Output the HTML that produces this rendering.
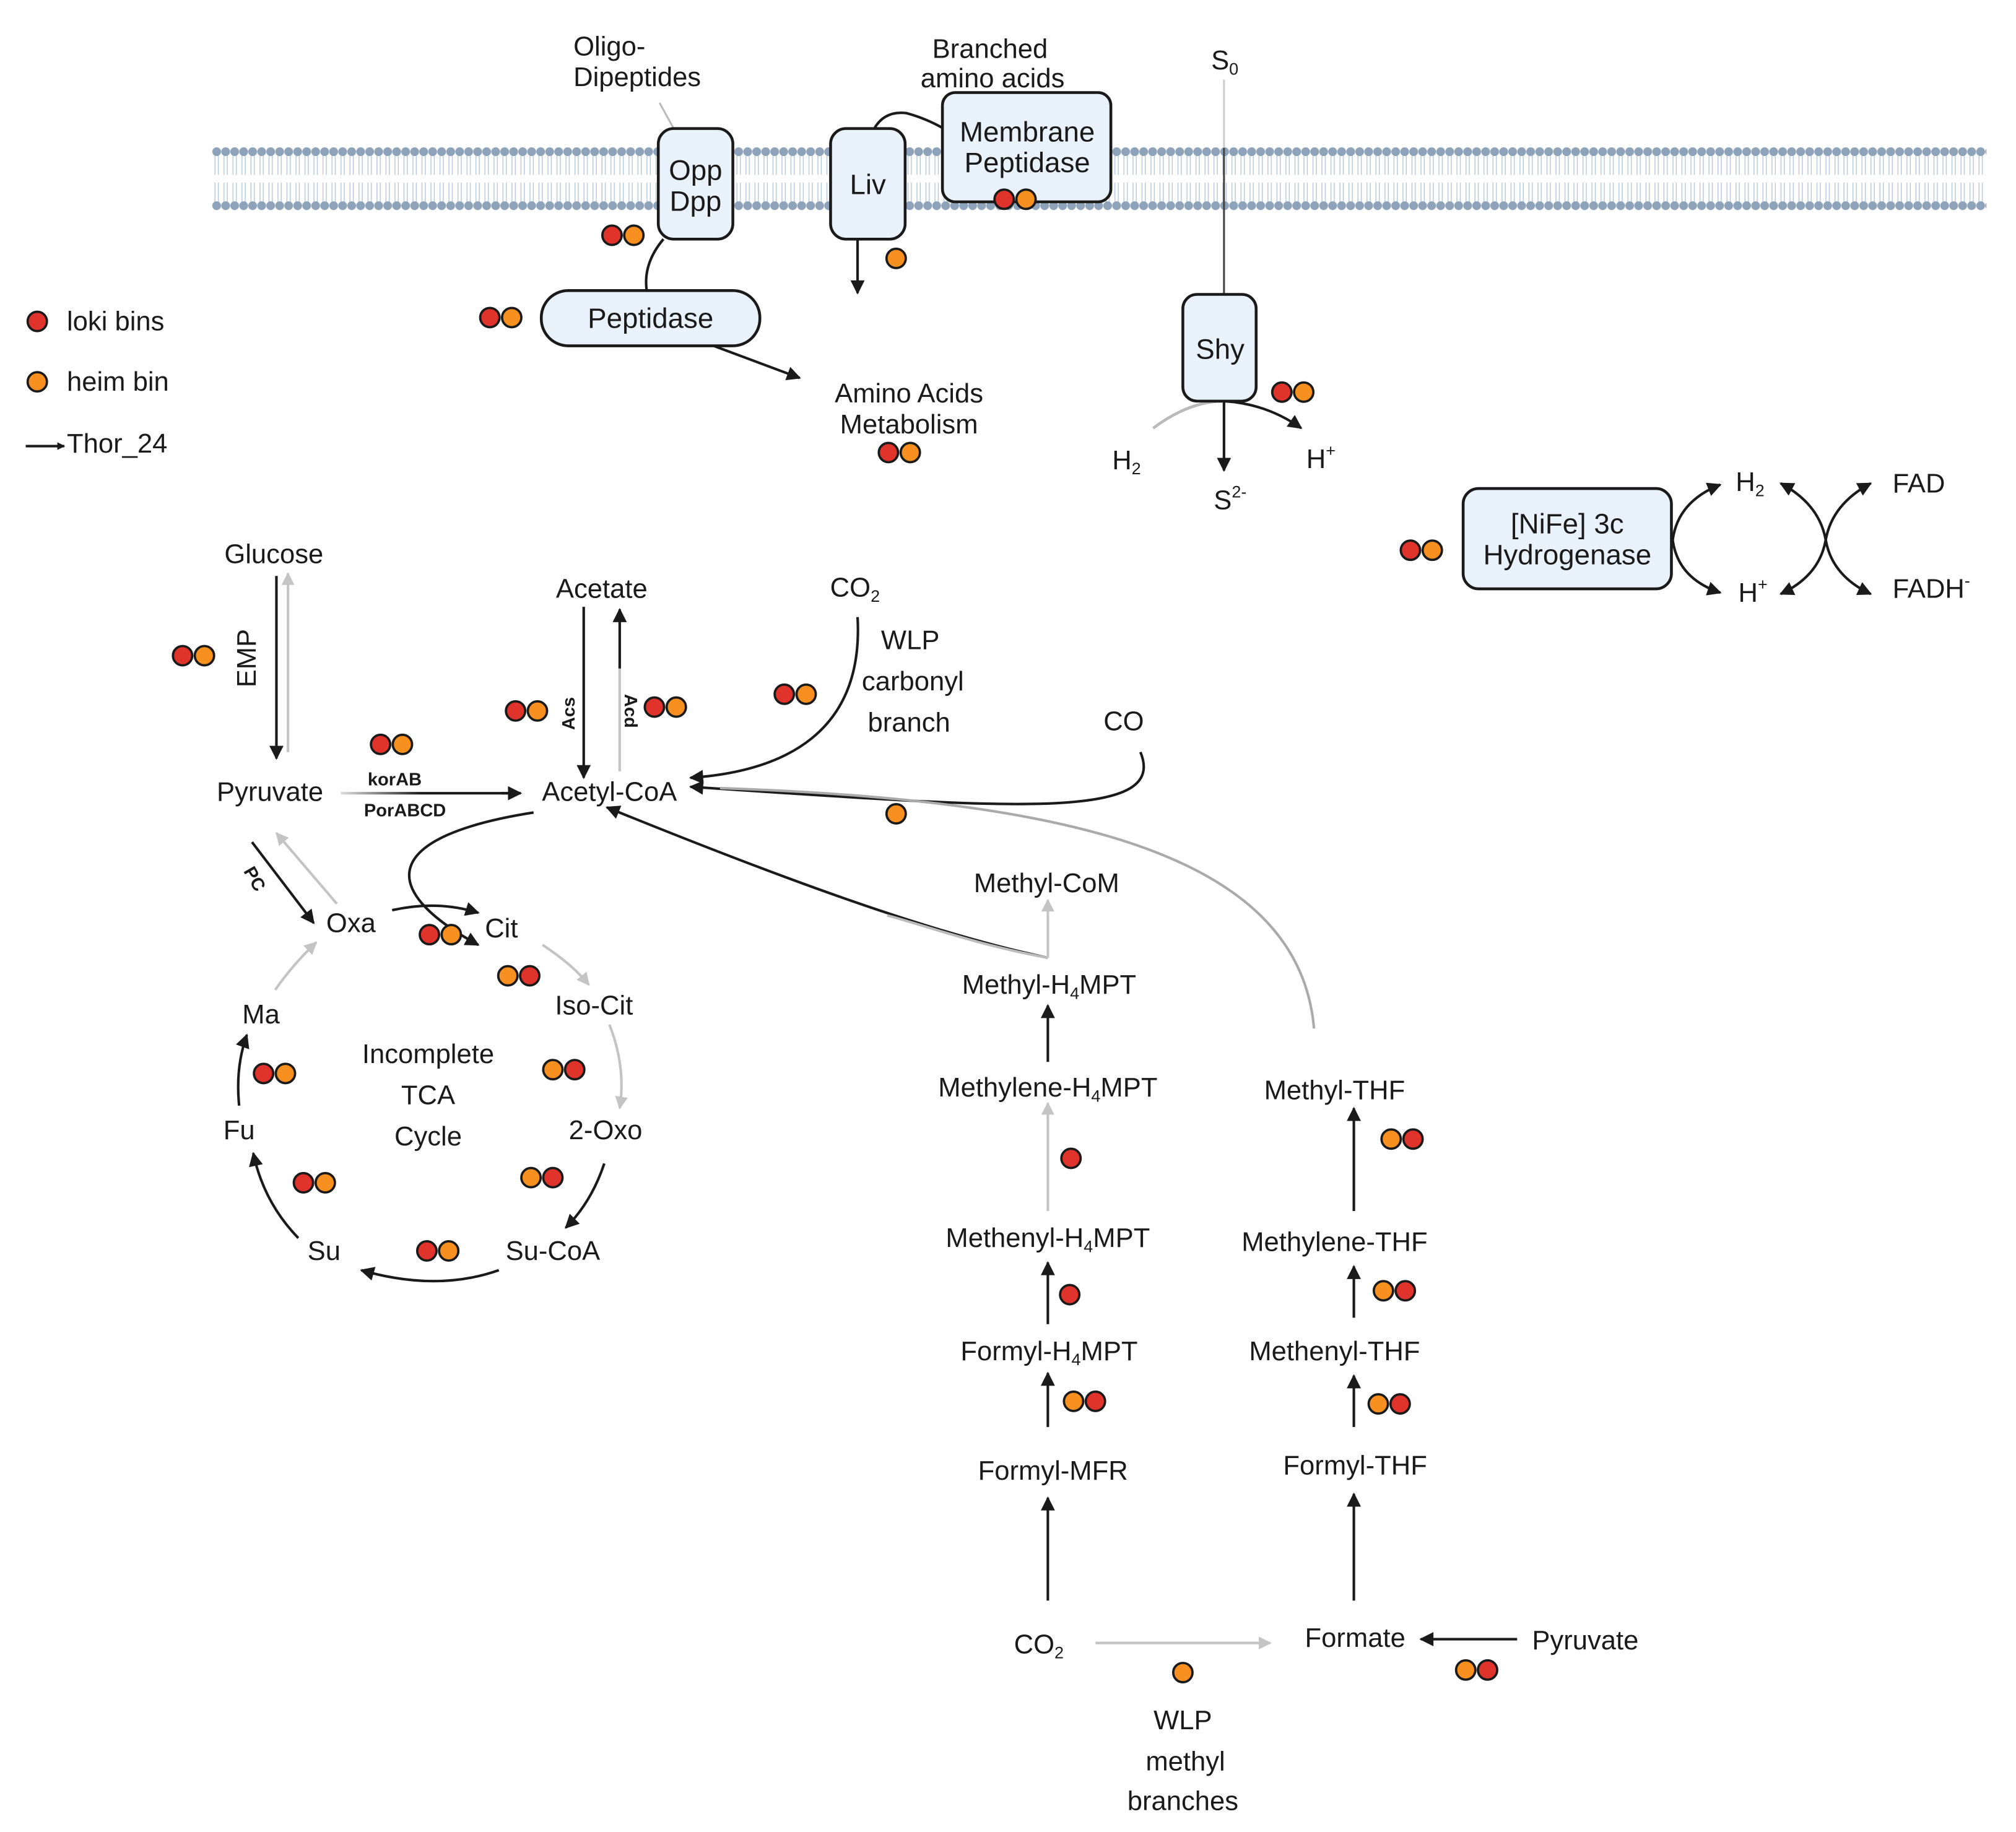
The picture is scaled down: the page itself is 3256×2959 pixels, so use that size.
<!DOCTYPE html>
<html><head><meta charset="utf-8"><style>
html,body{margin:0;padding:0;background:#fff;}
svg{display:block;}
text{font-family:"Liberation Sans",sans-serif;fill:#1a1a1a;}
</style></head><body>
<svg width="3256" height="2959" viewBox="0 0 1568 1425" preserveAspectRatio="none" xmlns="http://www.w3.org/2000/svg">
<defs>
<marker id="ab" viewBox="0 0 10 10" refX="9" refY="5" markerWidth="6" markerHeight="6" markerUnits="userSpaceOnUse" orient="auto"><path d="M0,0 L10,5 L0,10 Z" fill="#1a1a1a"/></marker>
<marker id="abl" viewBox="0 0 10 10" refX="9" refY="5" markerWidth="13" markerHeight="11" markerUnits="userSpaceOnUse" orient="auto"><path d="M0,0 L10,5 L0,10 Z" fill="#1a1a1a"/></marker>
<marker id="ag" viewBox="0 0 10 10" refX="9" refY="5" markerWidth="11" markerHeight="10" markerUnits="userSpaceOnUse" orient="auto"><path d="M0,0 L10,5 L0,10 Z" fill="#c4c4c4"/></marker>
<pattern id="mem" x="165" y="112" width="7" height="54" patternUnits="userSpaceOnUse">
<line x1="2.2" y1="6" x2="2.2" y2="24" stroke="#b7c8da" stroke-width="0.7"/>
<line x1="4.8" y1="6" x2="4.8" y2="24" stroke="#b7c8da" stroke-width="0.7"/>
<line x1="2.2" y1="30" x2="2.2" y2="48" stroke="#b7c8da" stroke-width="0.7"/>
<line x1="4.8" y1="30" x2="4.8" y2="48" stroke="#b7c8da" stroke-width="0.7"/>
<circle cx="3.5" cy="6" r="3.4" fill="#8ea3ba"/>
<circle cx="3.5" cy="48" r="3.4" fill="#8ea3ba"/>
</pattern>
<linearGradient id="gh" gradientUnits="userSpaceOnUse" x1="265" y1="0" x2="405" y2="0"><stop offset="0" stop-color="#ddd"/><stop offset="0.45" stop-color="#1a1a1a"/></linearGradient>
</defs>

<rect x="165" y="112" width="1380" height="54" fill="url(#mem)"/>

<line x1="513" y1="80" x2="524" y2="100" stroke="#bbb" stroke-width="1.5"/>
<path d="M516 186 Q500 205 503 226" fill="none" stroke="#1a1a1a" stroke-width="2"/>
<path d="M680 100 Q688 86 705 88 Q720 92 734 100" fill="none" stroke="#1a1a1a" stroke-width="2"/>
<line x1="667" y1="186" x2="667" y2="228" stroke="#1a1a1a" stroke-width="2" marker-end="url(#abl)"/>
<line x1="555" y1="269" x2="622" y2="294" stroke="#1a1a1a" stroke-width="2" marker-end="url(#abl)"/>
<line x1="952" y1="62" x2="952" y2="115" stroke="#ccc" stroke-width="1.5"/>
<line x1="952" y1="115" x2="952" y2="229" stroke="#444" stroke-width="1.5"/>
<line x1="952" y1="312" x2="952" y2="366" stroke="#1a1a1a" stroke-width="2" marker-end="url(#abl)"/>
<path d="M897 333 Q925 312 952 312 Q985 314 1012 333" fill="none" stroke="#1a1a1a" stroke-width="2" marker-end="url(#abl)"/>
<path d="M897 333 Q925 312 952 312" fill="none" stroke="#bbb" stroke-width="2"/>

<g fill="#e9f2fb" stroke="#1a1a1a" stroke-width="2.2">
<rect x="512" y="100" width="58" height="86" rx="12"/>
<rect x="646" y="100" width="58" height="86" rx="12"/>
<rect x="733" y="72" width="131" height="85" rx="10"/>
<rect x="421" y="226" width="170" height="43" rx="21"/>
<rect x="920" y="229" width="57" height="83" rx="11"/>
<rect x="1138" y="380" width="162" height="78" rx="12"/>
</g>
<g font-size="22" text-anchor="middle">
<text x="541" y="140">Opp</text><text x="541" y="164">Dpp</text>
<text x="675" y="151">Liv</text>
<text x="799" y="110">Membrane</text><text x="799" y="134">Peptidase</text>
<text x="506" y="255">Peptidase</text>
<text x="949" y="279">Shy</text>
<text x="1219" y="415">[NiFe] 3c</text><text x="1219" y="439">Hydrogenase</text>
</g>

<g fill="none" stroke="#1a1a1a" stroke-width="2">
<path d="M1301 420 Q1305 390 1338 377" marker-end="url(#abl)"/>
<path d="M1301 420 Q1305 450 1338 461" marker-end="url(#abl)"/>
<path d="M1420 420 Q1415 392 1385 376" marker-end="url(#abl)"/>
<path d="M1420 420 Q1415 448 1385 462" marker-end="url(#abl)"/>
<path d="M1420 420 Q1425 392 1455 376" marker-end="url(#abl)"/>
<path d="M1420 420 Q1425 448 1455 462" marker-end="url(#abl)"/>
</g>

<g font-size="21">
<text x="446" y="43">Oligo-</text><text x="446" y="67">Dipeptides</text>
<text x="770" y="45" text-anchor="middle">Branched</text><text x="772" y="68" text-anchor="middle">amino acids</text>
<text x="942" y="54">S<tspan font-size="13" dy="4">0</tspan></text>
<text x="707" y="313" text-anchor="middle">Amino Acids</text><text x="707" y="337" text-anchor="middle">Metabolism</text>
<text x="865" y="365">H<tspan font-size="13" dy="4">2</tspan></text>
<text x="944" y="396">S<tspan font-size="13" dy="-9">2-</tspan></text>
<text x="1016" y="364">H<tspan font-size="13" dy="-9">+</tspan></text>
<text x="1350" y="382">H<tspan font-size="13" dy="4">2</tspan></text>
<text x="1352" y="468">H<tspan font-size="13" dy="-9">+</tspan></text>
<text x="1472" y="383">FAD</text>
<text x="1472" y="465">FADH<tspan font-size="13" dy="-9">-</tspan></text>
<text x="52" y="257">loki bins</text>
<text x="52" y="304">heim bin</text>
<text x="52" y="352">Thor_24</text>
</g>
<line x1="20" y1="347" x2="50" y2="347" stroke="#1a1a1a" stroke-width="2" marker-end="url(#ab)"/>

<g fill="none" stroke-width="2">
<line x1="224" y1="585" x2="224" y2="446" stroke="#c4c4c4" marker-end="url(#ag)"/>
<line x1="215" y1="448" x2="215" y2="590" stroke="#1a1a1a" marker-end="url(#abl)"/>
<line x1="265" y1="617" x2="395" y2="617" stroke="url(#gh)"/>
<line x1="390" y1="617" x2="405" y2="617" stroke="#1a1a1a" marker-end="url(#abl)"/>
<line x1="454" y1="472" x2="454" y2="605" stroke="#1a1a1a" marker-end="url(#abl)"/>
<line x1="482" y1="600" x2="482" y2="520" stroke="#c4c4c4"/>
<line x1="482" y1="520" x2="482" y2="474" stroke="#1a1a1a" marker-end="url(#abl)"/>
<path d="M667 480 C672 570 610 600 537 605" stroke="#1a1a1a" marker-end="url(#abl)"/>
<path d="M887 585 C910 640 780 628 537 612" stroke="#1a1a1a" marker-end="url(#abl)"/>
<path d="M1022 800 C1010 660 820 622 560 613" stroke="#aaa"/>
<path d="M815 745 C720 725 600 680 472 628" stroke="#1a1a1a" marker-end="url(#abl)"/>
<path d="M815 745 C760 735 720 720 690 712" stroke="#bbb"/>
<path d="M415 632 C300 650 290 690 372 735" stroke="#1a1a1a" marker-end="url(#abl)"/>
<path d="M305 708 Q340 700 372 710" stroke="#1a1a1a" marker-end="url(#abl)"/>
<line x1="196" y1="655" x2="244" y2="718" stroke="#1a1a1a" marker-end="url(#abl)"/>
<line x1="262" y1="703" x2="215" y2="648" stroke="#c4c4c4" marker-end="url(#ag)"/>
<path d="M422 735 Q445 750 458 766" stroke="#c4c4c4" marker-end="url(#ag)"/>
<path d="M474 797 Q487 830 482 862" stroke="#c4c4c4" marker-end="url(#ag)"/>
<path d="M470 905 Q460 935 440 955" stroke="#1a1a1a" marker-end="url(#abl)"/>
<path d="M388 988 Q340 1005 281 988" stroke="#1a1a1a" marker-end="url(#abl)"/>
<path d="M232 963 Q205 935 197 897" stroke="#1a1a1a" marker-end="url(#abl)"/>
<path d="M186 860 Q183 830 192 805" stroke="#1a1a1a" marker-end="url(#abl)"/>
<path d="M214 770 Q228 750 246 733" stroke="#c4c4c4" marker-end="url(#ag)"/>
<line x1="815" y1="745" x2="815" y2="700" stroke="#c4c4c4" marker-end="url(#ag)"/>
<line x1="815" y1="826" x2="815" y2="782" stroke="#1a1a1a" marker-end="url(#abl)"/>
<line x1="815" y1="942" x2="815" y2="858" stroke="#c4c4c4" marker-end="url(#ag)"/>
<line x1="815" y1="1030" x2="815" y2="982" stroke="#1a1a1a" marker-end="url(#abl)"/>
<line x1="815" y1="1110" x2="815" y2="1068" stroke="#1a1a1a" marker-end="url(#abl)"/>
<line x1="815" y1="1245" x2="815" y2="1165" stroke="#1a1a1a" marker-end="url(#abl)"/>
<line x1="852" y1="1278" x2="988" y2="1278" stroke="#c4c4c4" marker-end="url(#ag)"/>
<line x1="1180" y1="1275" x2="1105" y2="1275" stroke="#1a1a1a" marker-end="url(#abl)"/>
<line x1="1053" y1="1245" x2="1053" y2="1162" stroke="#1a1a1a" marker-end="url(#abl)"/>
<line x1="1053" y1="1110" x2="1053" y2="1070" stroke="#1a1a1a" marker-end="url(#abl)"/>
<line x1="1053" y1="1025" x2="1053" y2="985" stroke="#1a1a1a" marker-end="url(#abl)"/>
<line x1="1053" y1="942" x2="1053" y2="862" stroke="#1a1a1a" marker-end="url(#abl)"/>
</g>

<g font-size="21" text-anchor="middle">
<text x="213" y="438">Glucose</text>
<text x="210" y="623">Pyruvate</text>
<text x="474" y="623">Acetyl-CoA</text>
<text x="468" y="465">Acetate</text>
<text x="665" y="464">CO<tspan font-size="13" dy="4">2</tspan></text>
<text x="708" y="505">WLP</text><text x="710" y="537">carbonyl</text><text x="707" y="569">branch</text>
<text x="874" y="568">CO</text>
<text x="273" y="725">Oxa</text>
<text x="390" y="729">Cit</text>
<text x="462" y="789">Iso-Cit</text>
<text x="471" y="886">2-Oxo</text>
<text x="430" y="980">Su-CoA</text>
<text x="252" y="980">Su</text>
<text x="186" y="886">Fu</text>
<text x="203" y="796">Ma</text>
<text x="333" y="827">Incomplete</text><text x="333" y="859">TCA</text><text x="333" y="891">Cycle</text>
<text x="814" y="694">Methyl-CoM</text>
<text x="816" y="773">Methyl-H<tspan font-size="13" dy="4">4</tspan><tspan dy="-4">MPT</tspan></text>
<text x="815" y="853">Methylene-H<tspan font-size="13" dy="4">4</tspan><tspan dy="-4">MPT</tspan></text>
<text x="815" y="970">Methenyl-H<tspan font-size="13" dy="4">4</tspan><tspan dy="-4">MPT</tspan></text>
<text x="816" y="1058">Formyl-H<tspan font-size="13" dy="4">4</tspan><tspan dy="-4">MPT</tspan></text>
<text x="819" y="1151">Formyl-MFR</text>
<text x="808" y="1286">CO<tspan font-size="13" dy="4">2</tspan></text>
<text x="920" y="1345">WLP</text><text x="922" y="1377">methyl</text><text x="920" y="1408">branches</text>
<text x="1054" y="1281">Formate</text>
<text x="1233" y="1283">Pyruvate</text>
<text x="1054" y="1147">Formyl-THF</text>
<text x="1038" y="1058">Methenyl-THF</text>
<text x="1038" y="973">Methylene-THF</text>
<text x="1038" y="855">Methyl-THF</text>
</g>
<g font-size="14" font-weight="bold" text-anchor="middle">
<text x="307" y="611">korAB</text>
<text x="315" y="635">PorABCD</text>
<text transform="translate(447,555) rotate(-90)">Acs</text>
<text transform="translate(486,553) rotate(90)">Acd</text>
<text transform="translate(194,686) rotate(60)">PC</text>
</g>
<text font-size="21" text-anchor="middle" transform="translate(199,512) rotate(-90)">EMP</text>

<g stroke="#1a1a1a" stroke-width="1.8">
<g fill="#e0332b">
<circle cx="29" cy="250" r="7.5"/>
<circle cx="476" cy="183" r="7.5"/><circle cx="381" cy="247" r="7.5"/><circle cx="781" cy="155" r="7.5"/>
<circle cx="691" cy="352" r="7.5"/><circle cx="997" cy="305" r="7.5"/><circle cx="1097" cy="428" r="7.5"/>
<circle cx="142" cy="510" r="7.5"/><circle cx="296" cy="579" r="7.5"/><circle cx="401" cy="553" r="7.5"/>
<circle cx="509" cy="550" r="7.5"/><circle cx="610" cy="540" r="7.5"/><circle cx="334" cy="727" r="7.5"/>
<circle cx="412" cy="759" r="7.5"/><circle cx="447" cy="832" r="7.5"/><circle cx="205" cy="835" r="7.5"/>
<circle cx="430" cy="916" r="7.5"/><circle cx="236" cy="920" r="7.5"/><circle cx="332" cy="973" r="7.5"/>
<circle cx="833" cy="901" r="7.5"/><circle cx="832" cy="1007" r="7.5"/><circle cx="852" cy="1090" r="7.5"/>
<circle cx="1099" cy="886" r="7.5"/><circle cx="1093" cy="1004" r="7.5"/><circle cx="1089" cy="1092" r="7.5"/>
<circle cx="1157" cy="1299" r="7.5"/>
</g>
<g fill="#f7901e">
<circle cx="29" cy="297" r="7.5"/>
<circle cx="493" cy="183" r="7.5"/><circle cx="398" cy="247" r="7.5"/><circle cx="798" cy="155" r="7.5"/>
<circle cx="697" cy="201" r="7.5"/>
<circle cx="708" cy="352" r="7.5"/><circle cx="1014" cy="305" r="7.5"/><circle cx="1114" cy="428" r="7.5"/>
<circle cx="159" cy="510" r="7.5"/><circle cx="313" cy="579" r="7.5"/><circle cx="418" cy="553" r="7.5"/>
<circle cx="526" cy="550" r="7.5"/><circle cx="627" cy="540" r="7.5"/><circle cx="697" cy="633" r="7.5"/>
<circle cx="351" cy="727" r="7.5"/><circle cx="395" cy="759" r="7.5"/><circle cx="430" cy="832" r="7.5"/>
<circle cx="222" cy="835" r="7.5"/><circle cx="413" cy="916" r="7.5"/><circle cx="253" cy="920" r="7.5"/>
<circle cx="349" cy="973" r="7.5"/><circle cx="835" cy="1090" r="7.5"/><circle cx="1082" cy="886" r="7.5"/>
<circle cx="1076" cy="1004" r="7.5"/><circle cx="1072" cy="1092" r="7.5"/><circle cx="920" cy="1301" r="7.5"/>
<circle cx="1140" cy="1299" r="7.5"/>
</g>
</g>
</svg>
</body></html>
